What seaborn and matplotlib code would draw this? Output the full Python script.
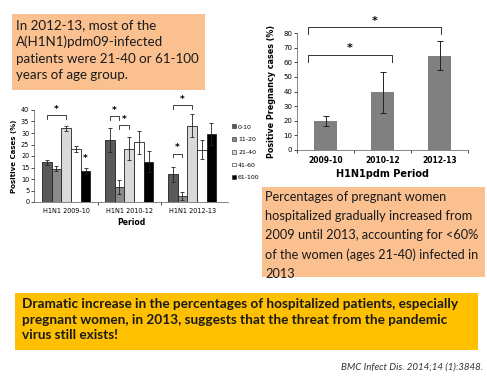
import numpy as np
import pandas as pd
import seaborn as sns
import matplotlib
matplotlib.use("Agg")
import matplotlib.pyplot as plt
from matplotlib.patches import Rectangle

# ---- data: positive cases by age group (left chart)
periods = ["H1N1 2009-10", "H1N1 2010-12", "H1N1 2012-13"]
age_groups = ["0-10", "11-20", "21-40", "41-60", "61-100"]
cases = {
    "0-10":   [17.2, 27.0, 12.0],
    "11-20":  [14.5, 6.5, 2.7],
    "21-40":  [32.0, 23.2, 33.2],
    "41-60":  [23.0, 26.0, 22.8],
    "61-100": [13.5, 17.5, 29.5],
}
cases_err = {
    "0-10":   [1.2, 5.3, 3.3],
    "11-20":  [1.0, 3.0, 1.8],
    "21-40":  [1.2, 5.0, 5.0],
    "41-60":  [1.2, 5.0, 4.3],
    "61-100": [1.3, 4.5, 4.7],
}
age_colors = ["#5a5a5a", "#8a8a8a", "#d9d9d9", "#ffffff", "#000000"]
# significance: (period index, first age idx, second age idx, height)
left_sig = [(0, 0, 2, 37.8), (1, 0, 1, 37.2), (1, 1, 2, 33.3),
            (2, 0, 1, 21.0), (2, 0, 2, 42.0)]
left_single_star = [(0, 4, 17.0)]

# ---- data: pregnancy cases (right chart)
preg_periods = ["2009-10", "2010-12", "2012-13"]
preg_values = [20.0, 39.5, 64.5]
preg_err = [3.5, 14.0, 10.0]
preg_sig = [(0, 1, 65.0), (0, 2, 84.0)]

box_text_1 = "In 2012-13, most of the\nA(H1N1)pdm09-infected\npatients were 21-40 or 61-100\nyears of age group."
box_text_2 = ("Percentages of pregnant women\nhospitalized gradually increased from\n"
              "2009 until 2013, accounting for <60%\nof the women (ages 21-40) infected in\n2013")
box_text_3 = ("Dramatic increase in the percentages of hospitalized patients, especially\n"
              "pregnant women, in 2013, suggests that the threat from the pandemic\n"
              "virus still exists!")
citation = "BMC Infect Dis. 2014;14 (1):3848."

W, H = 487, 376
fig = plt.figure(figsize=(W / 100, H / 100), dpi=100)
fig.patch.set_facecolor("white")


def px_rect(x0, y0, x1, y1):
    return [x0 / W, 1 - y1 / H, (x1 - x0) / W, (y1 - y0) / H]


# ---- background boxes
for (x0, y0, x1, y1, col) in [(12, 14, 205, 90, "#fac090"),
                              (262, 187, 485, 277, "#fac090"),
                              (15, 293, 478, 350, "#ffc000")]:
    fig.patches.append(Rectangle((x0 / W, 1 - y1 / H), (x1 - x0) / W, (y1 - y0) / H,
                                 transform=fig.transFigure, facecolor=col,
                                 edgecolor="none", zorder=0))

fig.text(16 / W, 1 - 19 / H, box_text_1, family="Lato", fontsize=9.6,
         va="top", ha="left", linespacing=1.45, color="#1a1a1a")
fig.text(265 / W, 1 - 191 / H, box_text_2, family="Lato", fontsize=9.2,
         va="top", ha="left", linespacing=1.7, color="#1a1a1a")
fig.text(22 / W, 1 - 298 / H, box_text_3, family="Lato", fontsize=9.8,
         fontweight="bold", va="top", ha="left", linespacing=1.36, color="#1a1a1a")
fig.text(483 / W, 1 - 367 / H, citation, family="Lato", fontsize=7,
         style="italic", ha="right", va="center", color="#333333")

# ---- left chart
rows = []
for a in age_groups:
    for p, v in zip(periods, cases[a]):
        rows.append({"period": p, "age": a, "value": v})
df_cases = pd.DataFrame(rows)

ax1 = fig.add_axes(px_rect(34, 110, 228, 202))
sns.barplot(data=df_cases, x="period", y="value", hue="age", order=periods,
            hue_order=age_groups, palette=age_colors, width=0.77,
            edgecolor="#222222", linewidth=0.6, errorbar=None, legend=False, ax=ax1)
bar_groups = list(ax1.containers)
centers = {}
for hi, cont in enumerate(bar_groups):
    a = age_groups[hi]
    for pi, bar in enumerate(cont):
        cx = bar.get_x() + bar.get_width() / 2
        centers[(pi, hi)] = cx
        ax1.errorbar(cx, cases[a][pi], yerr=cases_err[a][pi], color="#222222",
                     lw=0.6, capsize=1.5, capthick=0.6)
for (pi, i, j, y) in left_sig:
    x0, x1 = centers[(pi, i)], centers[(pi, j)]
    ax1.plot([x0, x0, x1, x1], [y - 1.6, y, y, y - 1.6], color="#222222",
             lw=0.6, clip_on=False)
    ax1.text((x0 + x1) / 2, y + 0.6, "*", ha="center", va="bottom",
             fontsize=6.5, fontweight="bold", clip_on=False)
for (pi, i, y) in left_single_star:
    ax1.text(centers[(pi, i)], y, "*", ha="center", va="bottom",
             fontsize=6.5, fontweight="bold")
ax1.set_xlim(-0.51, 2.57)
ax1.set_ylim(0, 40)
ax1.set_yticks(range(0, 41, 5))
ax1.set_xticks([0.5, 1.5], minor=True)
ax1.tick_params(axis="x", which="major", length=0, labelsize=4.7, pad=4)
ax1.tick_params(axis="x", which="minor", length=2, width=0.5)
ax1.tick_params(axis="y", length=2, width=0.5, labelsize=4.7, pad=1.5)
ax1.set_xlabel("Period", fontsize=5.5, fontweight="bold", labelpad=3)
ax1.set_ylabel("Positive Cases (%)", fontsize=5, fontweight="bold", labelpad=3)
for s in ["top", "right"]:
    ax1.spines[s].set_visible(False)
for s in ["left", "bottom"]:
    ax1.spines[s].set_linewidth(0.5)
    ax1.spines[s].set_color("#555555")
handles = [Rectangle((0, 0), 1, 1, facecolor=c, edgecolor="#222222", lw=0.4)
           for c in age_colors]
ax1.legend(handles, age_groups, loc="upper left", bbox_to_anchor=(1.01, 0.87),
           frameon=False, fontsize=4.5, handlelength=0.6, handleheight=0.6,
           handletextpad=0.3, labelspacing=1.2, borderaxespad=0)

# ---- right chart
df_preg = pd.DataFrame({"period": preg_periods, "value": preg_values})
ax2 = fig.add_axes(px_rect(297, 33, 468, 150))
sns.barplot(data=df_preg, x="period", y="value", color="#808080", width=0.42,
            errorbar=None, ax=ax2)
ax2.errorbar(range(len(preg_values)), preg_values, yerr=preg_err, fmt="none",
             ecolor="#222222", lw=0.7, capsize=2, capthick=0.7)
for (i, j, y) in preg_sig:
    x0, x1 = i - 0.31, j + (0.16 if j == 1 else 0.03)
    ax2.plot([x0, x0, x1, x1], [y - 5, y, y, y - 5], color="#333333",
             lw=0.7, clip_on=False)
    ax2.text((x0 + x1) / 2, y + 1, "*", ha="center", va="bottom",
             fontsize=8, fontweight="bold", clip_on=False)
ax2.set_xlim(-0.5, 2.5)
ax2.set_ylim(0, 80)
ax2.set_yticks(range(0, 81, 10))
ax2.set_xticks([-0.5, 0.5, 1.5, 2.5], minor=True)
ax2.tick_params(axis="x", which="major", length=0, labelsize=5.5, pad=4)
ax2.tick_params(axis="x", which="minor", length=2, width=0.5)
ax2.tick_params(axis="y", length=2, width=0.5, labelsize=5, pad=1.5)
for lab in ax2.get_xticklabels():
    lab.set_fontweight("bold")
ax2.set_xlabel("H1N1pdm Period", fontsize=7, fontweight="bold", labelpad=3)
ax2.set_ylabel("Positive Pregnancy cases (%)", fontsize=5.8, fontweight="bold", labelpad=5)
for s in ["top", "right"]:
    ax2.spines[s].set_visible(False)
for s in ["left", "bottom"]:
    ax2.spines[s].set_linewidth(0.5)
    ax2.spines[s].set_color("#555555")

fig.savefig("out.png", dpi=100)
